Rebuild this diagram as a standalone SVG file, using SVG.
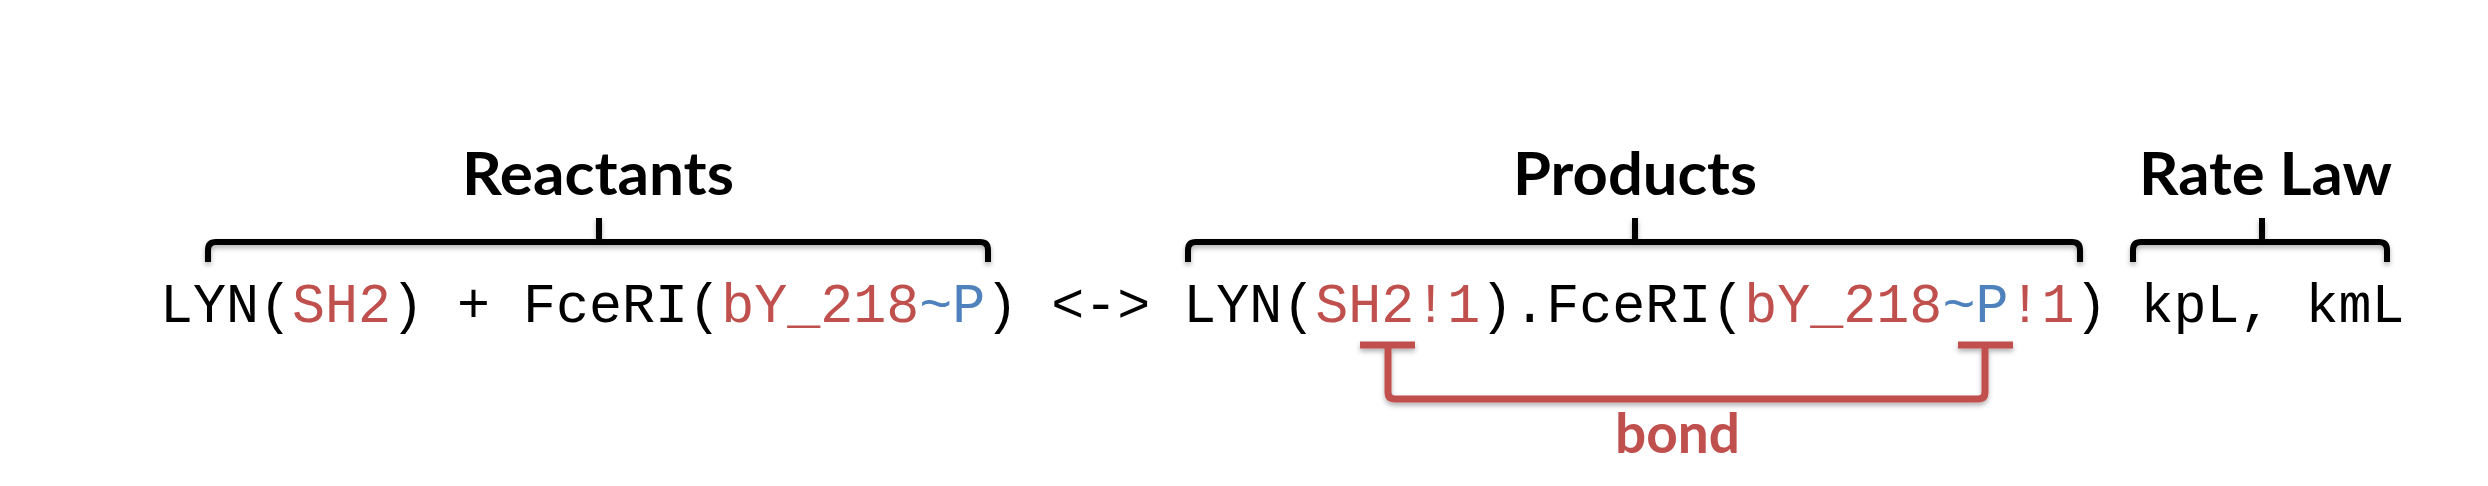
<svg xmlns="http://www.w3.org/2000/svg" width="2488" height="486" viewBox="0 0 2488 486">
  <defs>
    <filter id="shadow" x="-5%" y="-40%" width="110%" height="180%">
      <feDropShadow dx="0" dy="3" stdDeviation="2.5" flood-color="#000" flood-opacity="0.3"/>
    </filter>
  </defs>
  <style>
    .head { font-family: Lato, "Open Sans", "Liberation Sans", sans-serif; font-weight: bold; font-size: 59px; fill: #000; }
    .code { font-family: "Liberation Mono", "DejaVu Sans Mono", monospace; font-size: 55px; fill: #000; }
    .r { fill: #c0504d; }
    .b { fill: #4f81bd; }
    .brace { fill: none; stroke: #000; stroke-width: 6; stroke-linecap: butt; filter: url(#shadow); }
    .bond { fill: none; stroke: #c0504d; stroke-width: 7; filter: url(#shadow); }
    .bondlabel { font-family: Lato, "Open Sans", "Liberation Sans", sans-serif; font-weight: bold; font-size: 56px; fill: #c0504d; }
  </style>
  <rect width="2488" height="486" fill="#fff"/>

  <g id="reactants">
    <text class="head" x="462" y="195" textLength="272" lengthAdjust="spacingAndGlyphs">Reactants</text>
  </g>
  <g id="products">
    <text class="head" x="1513" y="195" textLength="244" lengthAdjust="spacingAndGlyphs">Products</text>
  </g>
  <g id="ratelaw">
    <text class="head" x="2139" y="195" textLength="253" lengthAdjust="spacingAndGlyphs">Rate Law</text>
  </g>

  <g id="reaction">
    <text class="code" x="160" y="322" xml:space="preserve">LYN(<tspan class="r">SH2</tspan>) + FceRI(<tspan class="r">bY_218</tspan><tspan class="b">~P</tspan>) &lt;-&gt; LYN(<tspan class="r">SH2!1</tspan>).FceRI(<tspan class="r">bY_218</tspan><tspan class="b">~P</tspan><tspan class="r">!1</tspan>) kpL, kmL</text>
  </g>

  <g id="bond-label">
    <text class="bondlabel" x="1615" y="453" textLength="125" lengthAdjust="spacingAndGlyphs">bond</text>
  </g>

  <g id="connectors">
    <path class="brace" d="M208,262 V250 Q208,242 216,242 H980 Q988,242 988,250 V262 M599,242 V218"/>
    <path class="brace" d="M1188,262 V250 Q1188,242 1196,242 H2072 Q2080,242 2080,250 V262 M1635,242 V218"/>
    <path class="brace" d="M2133,262 V250 Q2133,242 2141,242 H2379 Q2387,242 2387,250 V262 M2262,242 V218"/>
    <path class="bond" d="M1360,345 H1415 M1958,345 H2013 M1388,345 V392 Q1388,399 1395,399 H1978 Q1985,399 1985,392 V345"/>
  </g>
</svg>
